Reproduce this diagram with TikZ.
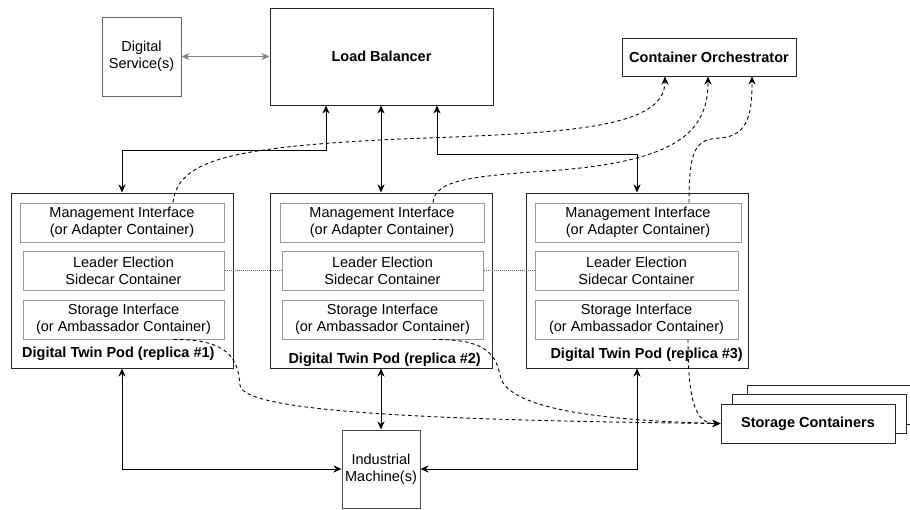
\documentclass[tikz,border=0pt]{standalone}
\usepackage{fontspec}
\setmainfont{Liberation Sans}
\usetikzlibrary{arrows.meta}

\begin{document}
\begin{tikzpicture}[x=1pt,y=-1pt,>={Stealth[length=8pt,width=7pt,inset=2.5pt]},
  every node/.style={font=\fontsize{14.5}{17}\selectfont,align=center,inner sep=0pt},
  lbl/.style={font=\fontsize{14.5}{17}\selectfont\bfseries},
  outer/.style={draw=black!85,line width=1pt,fill=white},
  inner/.style={draw=black!40,line width=1pt,minimum height=39pt},
  link/.style={<->,line width=0.9pt},
  ctrl/.style={->,line width=0.9pt,dash pattern=on 3.5pt off 3pt}]
\useasboundingbox (0,0) rectangle (910,509);
\clip (0,0) rectangle (910,509);

\node[outer,draw=black!60,minimum width=79pt,minimum height=79pt] (ds) at (141.5,56.5) {Digital\\Service(s)};
\node[outer,lbl,minimum width=223pt,minimum height=97pt] (lb) at (381.5,56.5) {Load Balancer};
\node[outer,lbl,minimum width=174pt,minimum height=38pt] (co) at (709,57) {Container Orchestrator};

\node[outer,minimum width=222pt,minimum height=175pt] (pod1) at (122,280.5) {};
\node[outer,minimum width=222pt,minimum height=175pt] (pod2) at (381,280.5) {};
\node[outer,minimum width=222pt,minimum height=175pt] (pod3) at (637,280.5) {};

\node[inner,minimum width=204pt] (mgmt1) at (122,222.5) {Management Interface\\(or Adapter Container)};
\node[inner,minimum width=201pt] (lead1) at (123.5,270.5) {Leader Election\\Sidecar Container};
\node[inner,minimum width=201pt] (stor1) at (123.5,319.5) {Storage Interface\\(or Ambassador Container)};
\node[lbl,anchor=west] (lbl1) at (22,354) {Digital Twin Pod (replica \#1)};

\node[inner,minimum width=204pt] (mgmt2) at (382,222.5) {Management Interface\\(or Adapter Container)};
\node[inner,minimum width=201pt] (lead2) at (382.5,270.5) {Leader Election\\Sidecar Container};
\node[inner,minimum width=201pt] (stor2) at (382.5,319.5) {Storage Interface\\(or Ambassador Container)};
\node[lbl,anchor=east] (lbl2) at (481,360) {Digital Twin Pod (replica \#2)};

\node[inner,minimum width=206pt] (mgmt3) at (638,222.5) {Management Interface\\(or Adapter Container)};
\node[inner,minimum width=203pt] (lead3) at (636.5,270.5) {Leader Election\\Sidecar Container};
\node[inner,minimum width=203pt] (stor3) at (636.5,319.5) {Storage Interface\\(or Ambassador Container)};
\node[lbl,anchor=east] (lbl3) at (743,355) {Digital Twin Pod (replica \#3)};

\node[outer,minimum width=174pt,minimum height=39pt] (scback) at (834,404.5) {};
\node[outer,minimum width=174pt,minimum height=39pt] (scmid) at (819,413.5) {};
\node[outer,lbl,minimum width=174pt,minimum height=39pt] (sc) at (808,423.5) {Storage Containers};

\node[outer,draw=black!70,minimum width=78pt,minimum height=78pt] (im) at (381,469) {Industrial\\Machine(s)};

\draw[link,draw=black!50] (ds) -- (lb);
\draw[link] ([xshift=-55.5pt]lb.south) -- ++(0,45) -| (pod1.north);
\draw[link] (lb.south -| pod2.north) -- (pod2.north);
\draw[link] ([xshift=55.5pt]lb.south) -- ++(0,49) -| (pod3.north);

\draw[link] (pod1.south) |- (im.west);
\draw[link] (pod2.south) -- (im.north);
\draw[link] (pod3.south) |- (im.east);

\draw[draw=black!60,line width=0.9pt,dash pattern=on 1pt off 1pt] (lead1) -- (lead2);
\draw[draw=black!60,line width=0.9pt,dash pattern=on 1pt off 1pt] (lead2) -- (lead3);

\draw[ctrl] ([xshift=51pt]mgmt1.north) .. controls (178,160) and (230,147) .. (400,139)
  .. controls (560,133) and (665,130) .. ([xshift=-44pt]co.south);
\draw[ctrl] ([xshift=51pt]mgmt2.north) .. controls (435,180) and (470,176) .. (560,170)
  .. controls (680,160) and (708,130) .. ([xshift=-1pt]co.south);
\draw[ctrl] ([xshift=51pt]mgmt3.north) .. controls (689,150) and (695,139) .. (720,138)
  .. controls (750,136) and (752,110) .. ([xshift=43pt]co.south);

\draw[ctrl] ([xshift=50pt]stor1.south) .. controls (230,339) and (238,360) .. (240,385)
  .. controls (242,410) and (400,420) .. (sc.west);
\draw[ctrl] ([xshift=50pt]stor2.south) .. controls (480,339) and (495,350) .. (500,375)
  .. controls (505,405) and (580,420) .. (sc.west);
\draw[ctrl] ([xshift=51.5pt]stor3.south) .. controls (688,400) and (695,424) .. (sc.west);
\end{tikzpicture}
\end{document}
